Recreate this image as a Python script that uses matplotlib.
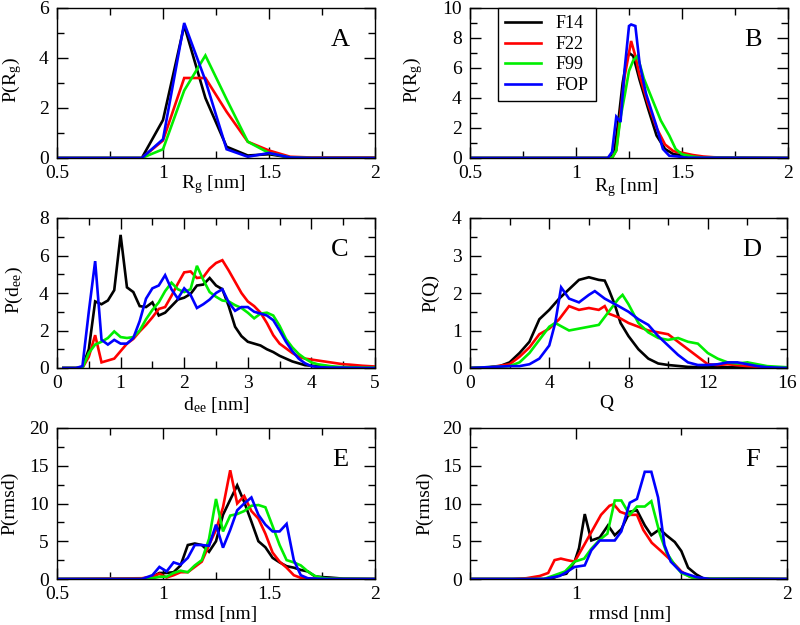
import matplotlib
matplotlib.use("Agg")
import matplotlib.pyplot as plt
from matplotlib.ticker import MultipleLocator, FuncFormatter

plt.rcParams['font.family'] = ['Liberation Serif', 'DejaVu Serif']
plt.rcParams['mathtext.fontset'] = 'stix'

series_names = ["F14", "F22", "F99", "FOP"]
colors = ["#000000", "#ff0000", "#00ee00", "#0000ff"]

# ---- Panel A: P(Rg) ----
a_x = [0.5, 0.6, 0.7, 0.8, 0.9, 1.0, 1.1, 1.2, 1.3, 1.4, 1.5, 1.6, 1.7, 1.8, 1.9, 2.0]
a_f14 = [0, 0, 0, 0, 0, 1.52, 5.3, 2.4, 0.45, 0.1, 0.15, 0.02, 0, 0, 0, 0]
a_f22 = [0, 0, 0, 0, 0, 0.7, 3.2, 3.2, 1.85, 0.65, 0.3, 0.05, 0.02, 0.02, 0.02, 0.02]
a_f99 = [0, 0, 0, 0, 0, 0.35, 2.7, 4.1, 2.35, 0.65, 0.2, 0.02, 0, 0, 0, 0]
a_fop = [0, 0, 0, 0, 0, 0.75, 5.4, 3.1, 0.35, 0.05, 0.2, 0.02, 0, 0, 0, 0]

# ---- Panel B: P(Rg) ----
b_f14_x = [0.5, 1.16, 1.18, 1.20, 1.22, 1.24, 1.25, 1.27, 1.30, 1.34, 1.38, 1.42, 1.46, 1.50, 1.55, 1.60, 1.70, 2.0]
b_f14_y = [0, 0, 0.3, 2.5, 5.0, 6.6, 7.0, 6.8, 5.2, 3.3, 1.5, 0.6, 0.25, 0.2, 0.1, 0.03, 0.01, 0]
b_f22_x = [0.5, 1.17, 1.19, 1.21, 1.23, 1.25, 1.26, 1.28, 1.30, 1.34, 1.38, 1.42, 1.46, 1.50, 1.55, 1.60, 1.65, 1.70, 1.80, 2.0]
b_f22_y = [0, 0, 0.5, 3.0, 5.5, 7.0, 7.8, 6.8, 5.5, 3.6, 2.0, 0.9, 0.45, 0.35, 0.2, 0.1, 0.05, 0.03, 0.02, 0]
b_f99_x = [0.5, 1.17, 1.19, 1.21, 1.23, 1.25, 1.27, 1.29, 1.32, 1.36, 1.40, 1.44, 1.47, 1.50, 1.55, 1.60, 2.0]
b_f99_y = [0, 0, 0.5, 2.7, 4.2, 5.8, 6.5, 6.8, 5.3, 3.9, 2.5, 1.5, 0.6, 0.25, 0.1, 0.02, 0]
b_fop_x = [0.5, 1.15, 1.17, 1.19, 1.21, 1.23, 1.25, 1.26, 1.28, 1.30, 1.33, 1.38, 1.41, 1.44, 1.48, 1.52, 2.0]
b_fop_y = [0, 0, 0.4, 2.75, 2.4, 6.0, 8.8, 8.9, 8.8, 6.3, 4.3, 2.1, 0.6, 0.15, 0.1, 0.02, 0]

# ---- Panel C: P(dee) ----
c_x = [0.1, 0.2, 0.3, 0.4, 0.5, 0.6, 0.7, 0.8, 0.9, 1.0, 1.1, 1.2, 1.3, 1.4, 1.5, 1.6, 1.7, 1.8, 1.9, 2.0,
       2.1, 2.2, 2.3, 2.4, 2.5, 2.6, 2.7, 2.8, 2.9, 3.0, 3.1, 3.2, 3.3, 3.4, 3.5, 3.6, 3.7, 3.8, 3.9, 4.0,
       4.1, 4.2, 4.3, 4.4, 4.5, 4.6, 4.7, 4.8, 4.9, 5.0]
c_f14 = [0, 0, 0, 0.05, 1.0, 3.55, 3.4, 3.6, 4.15, 7.1, 4.3, 4.05, 3.3, 3.25, 3.5, 2.8, 2.95, 3.3, 3.65, 3.75,
         3.95, 4.4, 4.45, 4.8, 4.4, 4.2, 3.3, 2.2, 1.7, 1.4, 1.3, 1.2, 1.0, 0.85, 0.65, 0.5, 0.35, 0.25, 0.15, 0.12,
         0.1, 0.12, 0.05, 0.03, 0.02, 0.01, 0.01, 0, 0, 0]
c_f22 = [0, 0, 0, 0, 0.6, 1.75, 0.3, 0.4, 0.5, 0.9, 1.3, 1.55, 1.95, 2.3, 2.7, 3.15, 3.25, 3.85, 4.5, 5.1,
         5.15, 4.8, 4.85, 5.3, 5.6, 5.75, 5.2, 4.6, 4.0, 3.55, 3.3, 2.95, 2.4, 1.75, 1.3, 1.05, 0.8, 0.6, 0.5, 0.45,
         0.4, 0.35, 0.3, 0.25, 0.2, 0.18, 0.15, 0.12, 0.1, 0.08]
c_f99 = [0, 0, 0, 0, 0.8, 1.25, 1.4, 1.6, 1.95, 1.65, 1.6, 1.65, 2.0, 2.6, 3.1, 3.5, 4.1, 4.55, 4.2, 4.05,
         4.2, 5.45, 4.7, 4.05, 3.8, 3.6, 3.55, 3.35, 3.2, 2.95, 2.65, 2.9, 2.95, 2.8, 2.25, 1.55, 1.1, 0.75, 0.5, 0.3,
         0.2, 0.15, 0.1, 0.07, 0.05, 0.04, 0.03, 0.02, 0.02, 0.02]
c_fop = [0, 0, 0, 0.1, 3.0, 5.7, 1.5, 1.25, 1.5, 1.3, 1.3, 1.6, 2.5, 3.7, 4.25, 4.4, 4.95, 4.2, 3.7, 4.25,
         3.9, 3.2, 3.4, 3.65, 4.0, 4.2, 3.5, 3.05, 3.25, 3.25, 3.0, 2.9, 2.8, 2.55, 2.0, 1.4, 0.9, 0.5, 0.25, 0.1,
         0.05, 0.03, 0.02, 0.02, 0.02, 0.01, 0.01, 0, 0, 0]

# ---- Panel D: P(Q) ----
d_f14_x = [0, 1, 1.5, 2, 2.5, 3, 3.5, 4, 4.5, 5, 5.5, 6, 6.5, 6.8, 7, 7.3, 7.6, 8, 8.5, 9, 9.5, 10, 11, 12, 13, 16]
d_f14_y = [0, 0.02, 0.05, 0.15, 0.4, 0.7, 1.3, 1.55, 1.85, 2.1, 2.35, 2.42, 2.35, 2.33, 2.1, 1.7, 1.2, 0.85, 0.5, 0.25, 0.12, 0.08, 0.03, 0.02, 0.02, 0]
d_f22_x = [0, 1, 2, 2.5, 3, 3.5, 4, 4.5, 5, 5.5, 6, 6.5, 6.8, 7, 7.5, 8, 8.5, 9, 9.5, 10, 10.5, 11, 11.5, 12, 12.5, 13, 14, 15, 16]
d_f22_y = [0, 0.02, 0.1, 0.3, 0.55, 0.9, 1.05, 1.3, 1.65, 1.55, 1.6, 1.55, 1.65, 1.45, 1.35, 1.2, 1.1, 1.0, 0.95, 0.9, 0.7, 0.5, 0.3, 0.1, 0.08, 0.1, 0.05, 0.02, 0]
d_f99_x = [0, 2, 2.5, 3, 3.5, 4, 4.3, 5, 5.5, 6, 6.5, 7, 7.5, 7.7, 8, 8.5, 9, 9.5, 10, 10.5, 11, 11.5, 12, 12.5, 13, 13.5, 14, 14.5, 15, 16]
d_f99_y = [0, 0.05, 0.15, 0.4, 0.75, 1.1, 1.2, 1.0, 1.05, 1.1, 1.15, 1.5, 1.85, 1.95, 1.7, 1.2, 0.95, 0.8, 0.75, 0.8, 0.7, 0.65, 0.4, 0.25, 0.15, 0.12, 0.15, 0.1, 0.05, 0.02]
d_fop_x = [0, 2, 2.5, 3, 3.5, 4, 4.3, 4.6, 5, 5.5, 6, 6.3, 6.8, 7.5, 8, 8.5, 9, 9.5, 10, 10.5, 11, 11.5, 12, 12.5, 13, 13.5, 14, 14.5, 15, 16]
d_fop_y = [0, 0.05, 0.05, 0.1, 0.25, 0.6, 1.2, 2.15, 1.85, 1.75, 1.95, 2.05, 1.85, 1.65, 1.5, 1.3, 1.15, 0.85, 0.6, 0.35, 0.15, 0.08, 0.08, 0.1, 0.15, 0.15, 0.1, 0.05, 0.02, 0]

# ---- Panel E: P(rmsd) ----
e_x = [0.5, 0.9, 0.95, 0.983, 1.017, 1.05, 1.083, 1.117, 1.15, 1.183, 1.217, 1.25, 1.283, 1.317, 1.35,
       1.383, 1.417, 1.45, 1.483, 1.517, 1.55, 1.583, 1.617, 1.65, 1.683, 1.717, 1.75, 1.783, 1.85, 2.0]
e_f14 = [0, 0, 0.3, 0.8, 0.8, 0.9, 1.8, 4.5, 4.7, 4.5, 3.6, 5.0, 8.5, 10.5, 12.4,
         10.2, 7.6, 5.0, 4.2, 2.8, 2.2, 1.7, 1.5, 1.2, 1.0, 0.35, 0.25, 0.2, 0.05, 0]
e_f22 = [0, 0.1, 0.3, 0.7, 0.2, 0.5, 0.9, 0.9, 1.6, 2.3, 4.5, 6.5, 9.5, 14.4, 10.0,
         11.0, 9.0, 8.0, 6.0, 3.5, 2.3, 1.5, 0.5, 0.15, 0.05, 0.03, 0.02, 0.01, 0, 0]
e_f99 = [0, 0, 0.1, 0.3, 0.3, 0.8, 1.1, 0.9, 1.8, 2.5, 5.3, 10.6, 6.3, 8.4, 8.6,
         9.0, 9.7, 9.8, 9.5, 7.0, 4.5, 2.5, 2.2, 1.8, 1.0, 0.4, 0.15, 0.05, 0.02, 0]
e_fop = [0, 0, 0.5, 1.6, 1.0, 2.2, 1.9, 2.8, 4.5, 4.5, 4.4, 7.2, 4.15, 6.5, 9.1,
         10.0, 10.8, 8.5, 7.2, 6.3, 6.3, 7.3, 2.5, 0.5, 0.1, 0.05, 0.02, 0, 0, 0]

# ---- Panel F: P(rmsd) ----
f_f14_x = [0.5, 0.85, 0.9, 0.924, 0.956, 0.995, 1.016, 1.043, 1.074, 1.114, 1.153, 1.185, 1.216, 1.256, 1.29,
           1.327, 1.358, 1.398, 1.429, 1.469, 1.50, 1.532, 1.571, 1.603, 1.65, 1.8, 2.0]
f_f14_y = [0, 0, 0.2, 0.5, 0.7, 2.3, 4.1, 8.6, 5.1, 5.5, 7.1, 5.8, 6.6, 8.9, 9.1,
           7.1, 5.8, 6.6, 5.8, 4.9, 3.7, 1.5, 0.6, 0.1, 0, 0.05, 0]
f_f22_x = [0.5, 0.7, 0.766, 0.83, 0.87, 0.9, 0.93, 0.96, 0.995, 1.04, 1.08, 1.12, 1.16, 1.18, 1.21, 1.25, 1.29,
           1.32, 1.36, 1.4, 1.45, 1.5, 1.54, 1.6, 2.0]
f_f22_y = [0, 0, 0.1, 0.4, 0.8, 2.5, 2.7, 2.5, 2.3, 4.5, 6.5, 8.5, 9.7, 9.9, 8.9, 8.5, 8.5,
           6.5, 4.8, 3.8, 2.5, 1.0, 0.3, 0.05, 0]
f_f99_x = [0.5, 0.85, 0.9, 0.95, 0.995, 1.04, 1.074, 1.114, 1.15, 1.185, 1.216, 1.256, 1.29, 1.327, 1.358,
           1.398, 1.43, 1.47, 1.5, 1.55, 1.6, 2.0]
f_f99_y = [0, 0, 0.5, 1.0, 2.3, 2.7, 4.0, 5.2, 6.0, 10.4, 10.4, 8.5, 9.6, 9.6, 10.3,
           6.0, 3.5, 1.8, 0.8, 0.2, 0.05, 0]
f_fop_x = [0.5, 0.85, 0.924, 0.956, 0.995, 1.043, 1.074, 1.114, 1.185, 1.216, 1.256, 1.29, 1.327, 1.358,
           1.39, 1.42, 1.45, 1.5, 1.571, 1.634, 2.0]
f_fop_y = [0, 0, 0.4, 0.9, 1.6, 1.8, 3.8, 5.1, 5.1, 6.3, 10.1, 10.6, 14.2, 14.2,
           10.8, 4.5, 2.3, 0.9, 0.25, 0, 0]

W, H = 800, 625
fig = plt.figure(figsize=(8, 6.25), dpi=100)


def make_axes(left_px, top_px, right_px, bottom_px):
    return fig.add_axes([left_px / W, 1 - bottom_px / H, (right_px - left_px) / W, (bottom_px - top_px) / H])


axA = make_axes(57, 8, 375, 158)
axB = make_axes(470, 8, 788, 158)
axC = make_axes(57, 218, 375, 368)
axD = make_axes(470, 218, 787, 368)
axE = make_axes(57, 428, 375, 579)
axF = make_axes(470, 428, 787, 579)

lw = 1.9


def draw(ax, xs, ys):
    for x, y, c, n in zip(xs, ys, colors, series_names):
        ax.plot(x, y, color=c, lw=lw, label=n, solid_joinstyle='miter')


draw(axA, [a_x] * 4, [a_f14, a_f22, a_f99, a_fop])
draw(axB, [b_f14_x, b_f22_x, b_f99_x, b_fop_x], [b_f14_y, b_f22_y, b_f99_y, b_fop_y])
draw(axC, [c_x] * 4, [c_f14, c_f22, c_f99, c_fop])
draw(axD, [d_f14_x, d_f22_x, d_f99_x, d_fop_x], [d_f14_y, d_f22_y, d_f99_y, d_fop_y])
draw(axE, [e_x] * 4, [e_f14, e_f22, e_f99, e_fop])
draw(axF, [f_f14_x, f_f22_x, f_f99_x, f_fop_x], [f_f14_y, f_f22_y, f_f99_y, f_fop_y])

tick_fs = 14


def style(ax, xlim, ylim, xmaj, xmin, ymaj, ymin, letter):
    ax.set_xlim(*xlim)
    ax.set_ylim(*ylim)
    ax.xaxis.set_major_locator(MultipleLocator(xmaj))
    ax.xaxis.set_minor_locator(MultipleLocator(xmin))
    ax.yaxis.set_major_locator(MultipleLocator(ymaj))
    ax.yaxis.set_minor_locator(MultipleLocator(ymin))
    ax.tick_params(which='both', direction='in', top=True, right=True, labelsize=tick_fs, width=1)
    ax.tick_params(axis='x', which='major', length=8, pad=5)
    ax.tick_params(axis='y', which='major', length=8, pad=6)
    ax.tick_params(which='minor', length=5)
    for s in ax.spines.values():
        s.set_linewidth(1)
    ax.text(0.89, 0.79, letter, transform=ax.transAxes, fontsize=19, ha='center', va='center')


style(axA, (0.5, 2), (0, 6), 0.5, 0.25, 2, 1, 'A')
style(axB, (0.5, 2), (0, 10), 0.5, 0.25, 2, 1, 'B')
style(axC, (0, 5), (0, 8), 1, 0.5, 2, 1, 'C')
style(axD, (0, 16), (0, 4), 4, 2, 1, 0.5, 'D')
style(axE, (0.5, 2), (0, 20), 0.5, 0.25, 5, 2.5, 'E')
style(axF, (0.5, 2), (0, 20), 1, 0.5, 5, 2.5, 'F')

for ax in (axA, axB, axE):
    ax.xaxis.set_major_formatter(FuncFormatter(lambda v, p: f"{v:g}"))
axF.xaxis.set_major_formatter(FuncFormatter(lambda v, p: "" if v < 0.9 else f"{v:g}"))

lab_fs = 14
g = r'$_\mathregular{g}$'
ee = r'$_\mathregular{ee}$'
axA.set_xlabel('R' + g + ' [nm]', fontsize=lab_fs)
axA.xaxis.set_label_coords(0.49, -0.10)
axB.set_xlabel('R' + g + ' [nm]', fontsize=lab_fs)
axB.xaxis.set_label_coords(0.49, -0.12)
axC.set_xlabel('d' + ee + ' [nm]', fontsize=lab_fs)
axC.xaxis.set_label_coords(0.5, -0.18)
axD.set_xlabel('Q', fontsize=lab_fs)
axD.xaxis.set_label_coords(0.43, -0.18)
axE.set_xlabel('rmsd [nm]', fontsize=lab_fs)
axE.xaxis.set_label_coords(0.5, -0.18)
axF.set_xlabel('rmsd [nm]', fontsize=lab_fs)
axF.xaxis.set_label_coords(0.505, -0.18)

axA.set_ylabel('P(R' + g + ')', fontsize=lab_fs)
axA.yaxis.set_label_coords(-0.105, 0.52)
axB.set_ylabel('P(R' + g + ')', fontsize=lab_fs)
axB.yaxis.set_label_coords(-0.14, 0.52)
axC.set_ylabel('P(d' + ee + ')', fontsize=lab_fs)
axC.yaxis.set_label_coords(-0.10, 0.52)
axD.set_ylabel('P(Q)', fontsize=lab_fs)
axD.yaxis.set_label_coords(-0.095, 0.5)
axE.set_ylabel('P(rmsd)', fontsize=lab_fs)
axE.yaxis.set_label_coords(-0.12, 0.5)
axF.set_ylabel('P(rmsd)', fontsize=lab_fs)
axF.yaxis.set_label_coords(-0.116, 0.5)

leg = axB.legend(loc='upper left', bbox_to_anchor=(0.087, 1.0), fontsize=13, frameon=True,
                 fancybox=False, edgecolor='black', framealpha=1, borderaxespad=0,
                 handlelength=2.0, handletextpad=0.8, labelspacing=0.2, borderpad=0.4)
leg.get_frame().set_linewidth(1)

fig.savefig('out.png', dpi=100)
